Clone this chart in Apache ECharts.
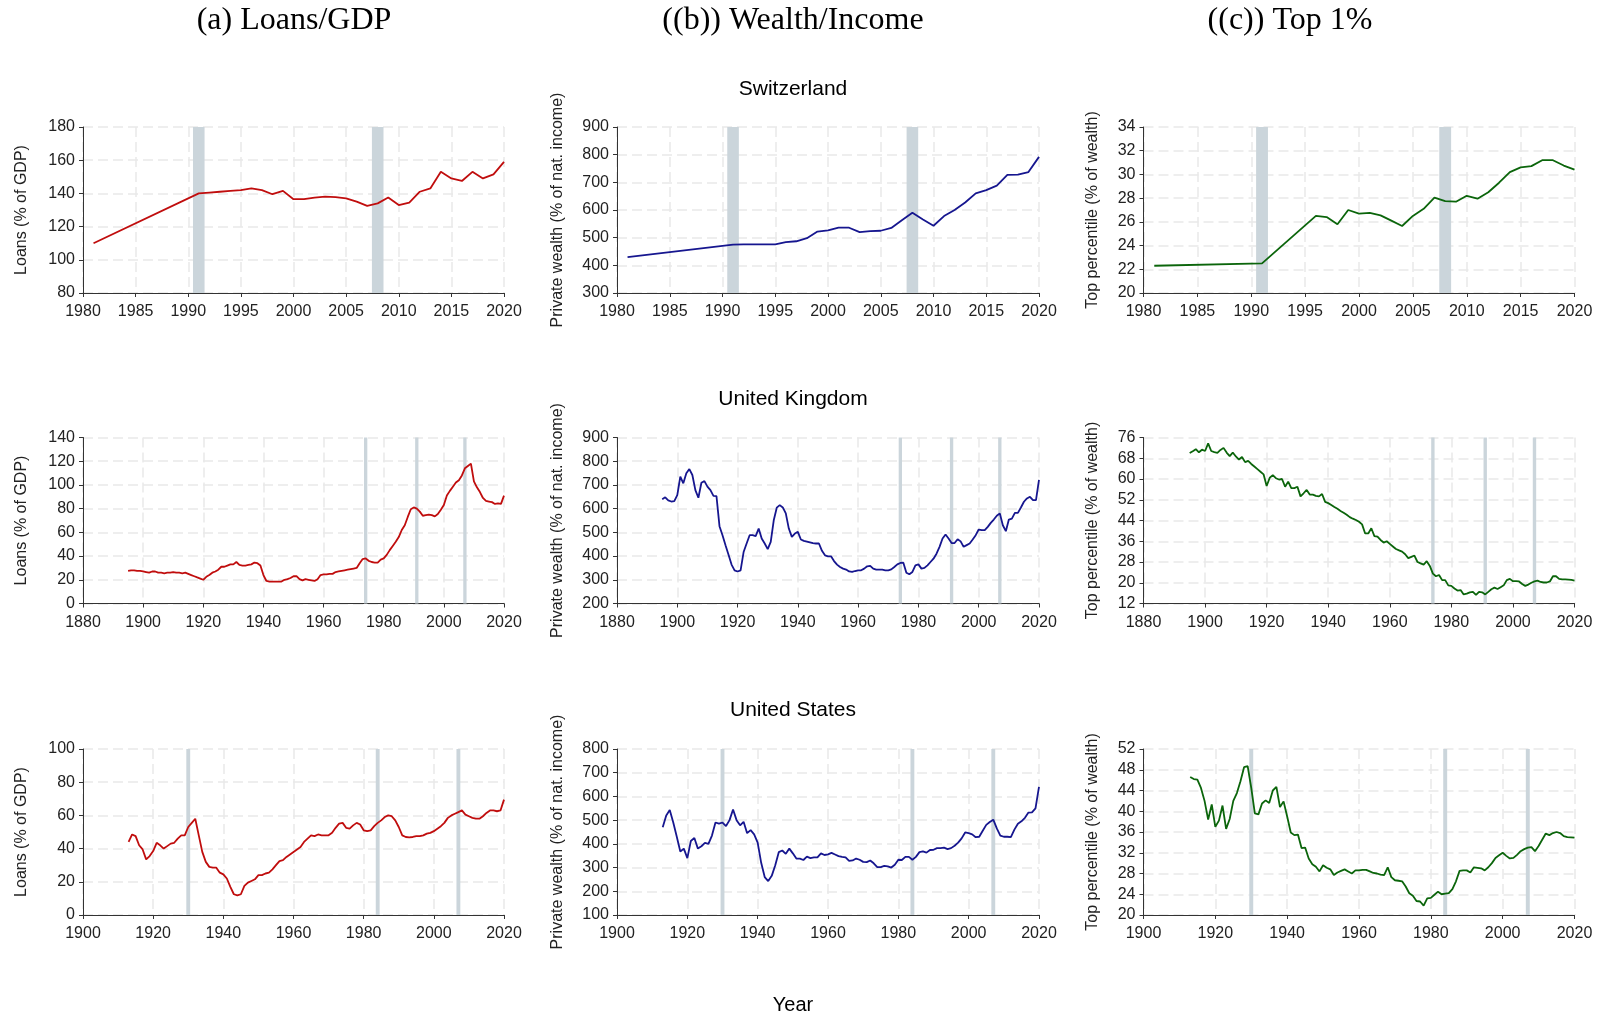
<!DOCTYPE html>
<html>
<head>
<meta charset="utf-8">
<title>Loans, wealth and top 1%</title>
<script src="https://cdn.jsdelivr.net/npm/echarts@6/dist/echarts.min.js"></script>
<style>
    html, body { margin: 0; padding: 0; background: #fff; }
    #chart_dom { width: 1602px; height: 1019px; }
</style>
</head>
<body>
<div id="chart_dom"></div>
<script>
// ---- data ----
const countries = ['Switzerland', 'United Kingdom', 'United States']
const panelTitles = ['(a) Loans/GDP', '((b)) Wealth/Income', '((c)) Top 1%']
const yNames = ['Loans (% of GDP)', 'Private wealth (% of nat. income)', 'Top percentile (% of wealth)']

// Switzerland: 1981 then 1991-2020
const chYears = [1981,
    1991, 1992, 1993, 1994, 1995, 1996, 1997, 1998, 1999, 2000,
    2001, 2002, 2003, 2004, 2005, 2006, 2007, 2008, 2009, 2010,
    2011, 2012, 2013, 2014, 2015, 2016, 2017, 2018, 2019, 2020]
const chLoans = [110,
    140, 140.5, 141, 141.5, 142, 143, 142, 139.5, 141.5, 136.5,
    136.5, 137.5, 138, 137.8, 137, 135, 132.5, 134, 137.5, 133,
    134.5, 141, 143, 153, 149, 147.5, 153, 149, 151.5, 159]
const chWealth = [430,
    475, 476, 476, 476, 476, 484, 487, 498, 522, 526,
    536, 536, 520, 524, 525, 535, 563, 590, 566, 543,
    578, 600, 627, 660, 672, 688, 727, 728, 737, 792]
const chTop1 = [22.3,
    22.5, 23.3, 24.1, 24.9, 25.7, 26.5, 26.4, 25.8, 27.0, 26.7,
    26.75, 26.55, 26.1, 25.65, 26.5, 27.1, 28.05, 27.75, 27.7, 28.2,
    27.95, 28.5, 29.3, 30.2, 30.6, 30.7, 31.2, 31.2, 30.75, 30.4]

// United Kingdom: 1895-2020
const ukStart = 1895
const ukLoans = [
    27.5, 28, 28, 27.5, 27.5,
    27, 26.5, 26, 27, 27, 26, 26, 25.5, 26, 26,
    26.5, 26, 26, 25.5, 26, 25, 24, 23, 22, 21,
    20, 22.5, 24, 26, 27, 28.5, 31, 31, 32, 33,
    33, 35, 32.5, 32, 32, 32.5, 33, 34.5, 34, 32,
    24, 19, 18.5, 18.5, 18.5, 18.5, 18.5, 20, 20.5, 21.5,
    23, 23, 20.5, 19.5, 20.5, 20, 19.5, 19, 20.5, 24,
    24.5, 24.5, 25, 25, 26.5, 27, 27.5, 28, 28.5, 29,
    29.5, 30, 34, 37.5, 38, 36, 35, 34.5, 34.5, 37,
    38, 41, 45, 48.5, 52, 56, 62, 66, 73, 79.5,
    81, 80, 77.5, 74, 74.5, 75, 74.5, 73.5, 75.5, 79,
    83, 91, 95, 98.5, 102, 104, 108, 114, 116, 118,
    103, 98, 94, 89, 86.5, 86, 85.5, 84, 84.5, 84,
    91]
const ukWealth = [
    640, 648, 635, 630, 632,
    657, 735, 707, 749, 767, 742, 678, 646, 709, 716,
    693, 678, 654, 653, 526, 488, 446, 406, 364, 340,
    335, 340, 417, 453, 488, 488, 484, 516, 474, 453,
    429, 460, 551, 604, 615, 605, 580, 516, 481, 495,
    502, 470, 464, 461, 458, 455, 453, 453, 422, 403,
    399, 399, 379, 364, 354, 347, 343, 335, 333, 337,
    340, 340, 347, 357, 359, 347, 343, 343, 343, 340,
    340, 344, 354, 365, 371, 372, 330, 323, 333, 361,
    365, 347, 350, 361, 375, 389, 410, 439, 474, 491,
    474, 455, 455, 471, 462, 439, 446, 453, 470, 488,
    512, 509, 509, 523, 540, 554, 570, 580, 530, 505,
    554, 558, 582, 582, 605, 629, 643, 650, 636, 636,
    721]
const ukTop1 = [
    70, 70.7, 71.5, 70.3, 71.3,
    70.8, 73.7, 70.8, 70.4, 70.1, 71.2, 72, 70.2, 68.8, 70.2,
    68.7, 67.5, 68.5, 66.5, 67, 65.8, 64.8, 63.8, 62.8, 61.8,
    57.3, 60.5, 61.5, 60.3, 59.8, 60, 57, 59, 56.5, 56.5,
    57, 53.3, 54.5, 55.8, 54, 54, 53.5, 53.3, 54.2, 51.2,
    50.7, 50, 49.2, 48.5, 47.7, 47, 46.2, 45.3, 44.7, 44.2,
    43.5, 42.5, 39, 39, 41, 38, 37.8, 36.5, 35.5, 36,
    35, 34, 33, 32.5, 32, 31, 29.5, 30, 30.5, 28,
    27.5, 27, 28.3, 26.5, 23.5, 22.5, 23, 21, 21, 19,
    18.8, 17.8, 17, 17.2, 15.5, 15.8, 16.3, 16.5, 15.3, 16.5,
    16.3, 15.5, 16.5, 17.5, 18.1, 17.6, 18.3, 19, 21, 21.5,
    20.6, 20.6, 20.5, 19.5, 18.8, 19.3, 20, 20.5, 20.8, 20.3,
    20.1, 20.1, 20.5, 22.5, 22.5, 21.5, 21.3, 21.3, 21.2, 21.1,
    20.8]

// United States: 1913-2020
const usStart = 1913
const usLoans = [
    44, 48.5, 47.5, 42, 39.5, 33.5, 35.5,
    38.5, 43.5, 42, 40, 41.5, 43, 43.5, 46, 48, 48,
    53, 55.5, 58, 48, 38, 32, 29, 28.5, 28.5, 25.5,
    24.5, 22, 17, 12.5, 11.8, 12.5, 17.5, 19.5, 20.5, 21.5,
    24, 24, 25, 25.5, 27.5, 30, 32.5, 33, 35, 36.5,
    38, 39.5, 41, 44, 46, 48, 47.5, 48.5, 48, 48,
    48, 49.5, 52.5, 55, 55.5, 52.5, 52, 54, 55.5, 54.5,
    51, 50.5, 51, 53.5, 55.5, 57, 59, 60, 59.5, 57,
    53, 48, 47, 46.8, 47, 47.5, 47.5, 48, 49, 49.5,
    50.5, 52, 53.5, 55.5, 58.5, 60, 61, 62, 63, 60.5,
    59.5, 58.5, 58, 58, 59.5, 61.5, 63, 63, 62.5, 63,
    69.5]
const usWealth = [
    470, 520, 543, 490, 430, 368, 380,
    340, 412, 425, 380, 390, 404, 400, 435, 490, 485,
    490, 475, 500, 545, 500, 478, 493, 445, 458, 440,
    405, 320, 260, 243, 265, 310, 365, 372, 358, 380,
    360, 338, 338, 332, 346, 340, 343, 343, 360, 353,
    356, 362, 355, 348, 345, 343, 328, 330, 338, 333,
    324, 323, 330, 318, 302, 302, 307, 305, 300, 312,
    333, 332, 345, 345, 333, 345, 365, 368, 363, 374,
    375, 382, 382, 384, 378, 382, 392, 405, 423, 448,
    445, 440, 428, 430, 455, 480, 492, 502, 465, 435,
    430, 430, 428, 460, 485, 495, 510, 532, 533, 550,
    640]
const usTop1 = [
    46.6, 46.2, 46.1, 44.5, 42, 38.4, 41.3,
    37, 38.2, 41.1, 36.6, 38.5, 42, 43.5, 45.8, 48.5, 48.7,
    44.5, 39.6, 39.4, 41.5, 42.1, 41.6, 44, 44.7, 40.8, 41.9,
    39, 35.9, 35.4, 35.5, 32.9, 33, 30.9, 29.8, 29.3, 28.4,
    29.6, 29.1, 28.8, 27.7, 28.2, 28.5, 28.8, 28.4, 28, 28.6,
    28.6, 28.7, 28.7, 28.4, 28.1, 28, 27.8, 27.7, 29.2, 27.3,
    26.7, 26.6, 26.5, 25.5, 24.2, 23.7, 22.7, 22.6, 21.8, 23.2,
    23.3, 23.9, 24.5, 24, 24.1, 24.2, 25, 26.5, 28.5, 28.6,
    28.6, 28.2, 29.2, 29.1, 29, 28.6, 29.2, 30, 31, 31.5,
    32, 31.4, 30.9, 31, 31.6, 32.3, 32.7, 33, 33.1, 32.3,
    33.3, 34.5, 35.7, 35.4, 35.8, 36, 35.8, 35.2, 35, 34.95,
    34.9]

// banking crisis years (shaded)
const chCrises = [1991, 2008]
const ukCrises = [1974, 1991, 2007]
const usCrises = [1930, 1984, 2007]

// axis ticks [min, max, interval]
const xTicks = [[1980, 2020, 5], [1880, 2020, 20], [1900, 2020, 20]]
const yTicks = [
    [[80, 180, 20], [300, 900, 100], [20, 34, 2]],
    [[0, 140, 20], [200, 900, 100], [12, 76, 8]],
    [[0, 100, 20], [100, 800, 100], [20, 52, 4]],
]

// ---- build ----
const ukYears = ukLoans.map((_, i) => ukStart + i)
const usYears = usLoans.map((_, i) => usStart + i)
const rows = [
    { years: chYears, vals: [chLoans, chWealth, chTop1], crises: chCrises },
    { years: ukYears, vals: [ukLoans, ukWealth, ukTop1], crises: ukCrises },
    { years: usYears, vals: [usLoans, usWealth, usTop1], crises: usCrises },
]
const pairs = (years, vals) => vals.map((v, i) => [years[i], v])

const lineColors = ['#c00d0d', '#16168f', '#0b650b']
const bandColor = '#cbd5db'
const axisColor = '#333333'
const gridColor = '#e9e9e9'
const sans = '"Liberation Sans", Arial, Helvetica, sans-serif'
const serif = '"Liberation Serif", "Times New Roman", serif'

const colLeft = [83, 617, 1143.5]
const colWidth = [421, 422, 431]
const rowTop = [127, 437.5, 749]
const rowHeight = 166
const nameGaps = [53, 51, 43]

const plain = v => String(v)

const grid = [], xAxis = [], yAxis = [], series = []
rows.forEach((row, r) => {
    for (let c = 0; c < 3; c++) {
        const k = grid.length
        grid.push({ left: colLeft[c], top: rowTop[r], width: colWidth[c], height: rowHeight })
        const xt = xTicks[r], yt = yTicks[r][c]
        xAxis.push({
            type: 'value', gridIndex: k, min: xt[0], max: xt[1], interval: xt[2],
            axisLine: { show: true, onZero: false, lineStyle: { color: axisColor, width: 1 } },
            axisTick: { show: true, length: 4, lineStyle: { color: axisColor } },
            axisLabel: { color: '#222', fontSize: 16, fontFamily: sans, margin: 11, formatter: plain },
            splitLine: { show: true, lineStyle: { color: gridColor, width: 1.5, type: [10, 5] } },
        })
        yAxis.push({
            type: 'value', gridIndex: k, min: yt[0], max: yt[1], interval: yt[2],
            name: yNames[c], nameLocation: 'middle', nameRotate: 90, nameGap: nameGaps[c],
            nameTextStyle: { color: '#222', fontSize: 16, fontFamily: sans },
            axisLine: { show: true, onZero: false, lineStyle: { color: axisColor, width: 1 } },
            axisTick: { show: true, length: 4, lineStyle: { color: axisColor } },
            axisLabel: { color: '#222', fontSize: 16, fontFamily: sans, margin: 8, formatter: plain },
            splitLine: { show: true, lineStyle: { color: gridColor, width: 1.5, type: [10, 5] } },
        })
        // crisis bands
        series.push({
            type: 'line', xAxisIndex: k, yAxisIndex: k, data: [], z: 1, silent: true,
            markArea: {
                silent: true,
                itemStyle: { color: bandColor },
                data: row.crises.map(y => [{ xAxis: y - 0.55 }, { xAxis: y + 0.55 }]),
            },
        })
        series.push({
            type: 'line', xAxisIndex: k, yAxisIndex: k, z: 3,
            data: pairs(row.years, row.vals[c]),
            symbol: 'none', showSymbol: false, smooth: false,
            lineStyle: { color: lineColors[c], width: 1.8 },
        })
    }
})

const txt = (text, x, y, font) => ({
    type: 'text', x: x, y: y, silent: true,
    style: { text: text, font: font, fill: '#000', align: 'center', verticalAlign: 'middle',
        textAlign: 'center', textVerticalAlign: 'middle' },
})
const graphic = [
    txt(panelTitles[0], 294, 21, '32px ' + serif),
    txt(panelTitles[1], 793, 21, '32px ' + serif),
    txt(panelTitles[2], 1290, 21, '32px ' + serif),
    txt(countries[0], 793, 89, '21px ' + sans),
    txt(countries[1], 793, 399.5, '21px ' + sans),
    txt(countries[2], 793, 710, '21px ' + sans),
    txt('Year', 793, 1005, '20px ' + sans),
]

const chart = echarts.init(document.getElementById('chart_dom'))
chart.setOption({
    backgroundColor: '#ffffff',
    animation: false,
    grid: grid,
    xAxis: xAxis,
    yAxis: yAxis,
    series: series,
    graphic: graphic,
})
</script>
</body>
</html>
